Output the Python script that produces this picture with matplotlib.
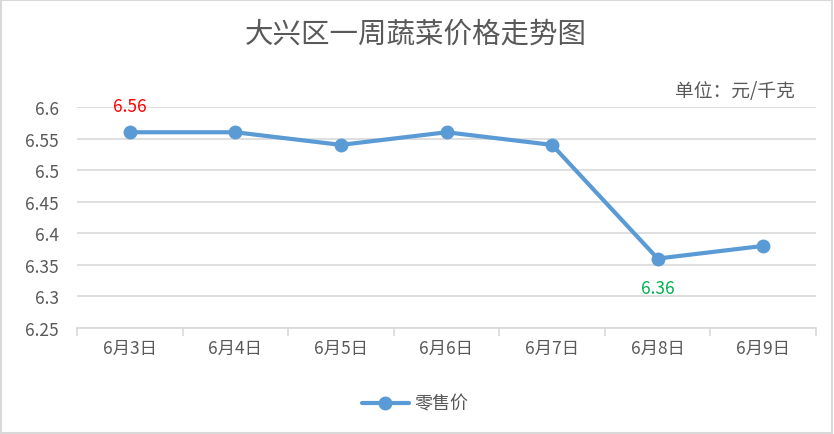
import matplotlib
matplotlib.use("Agg")
import matplotlib.pyplot as plt
from matplotlib.patches import Rectangle

plt.rcParams['font.family'] = ['Noto Sans CJK SC', 'DejaVu Sans']

categories = ["6月3日", "6月4日", "6月5日", "6月6日", "6月7日", "6月8日", "6月9日"]
values = [6.56, 6.56, 6.54, 6.56, 6.54, 6.36, 6.38]
yticks = [6.25, 6.3, 6.35, 6.4, 6.45, 6.5, 6.55, 6.6]
series_name = "零售价"
title = "大兴区一周蔬菜价格走势图"
unit = "单位：元/千克"

fig = plt.figure(figsize=(8.34, 4.35), dpi=100)
ax = fig.add_axes([77/834, 1-329/435, (816-77)/834, (329-108)/435])

x = list(range(len(categories)))
line, = ax.plot(x, values, color='#5B9BD5', linewidth=3, marker='o', markersize=9,
                solid_capstyle='round', label=series_name, zorder=3)

ax.set_xlim(-0.5, len(categories) - 0.5)
ax.set_ylim(6.25, 6.6)
ax.set_yticks(yticks)
ax.set_yticklabels([f"{v:g}" for v in yticks])
ax.yaxis.grid(True, color='#D9D9D9', linewidth=1.2)
ax.set_axisbelow(True)
for s in ['top', 'right', 'left']:
    ax.spines[s].set_visible(False)
ax.spines['bottom'].set_color('#D9D9D9')
ax.spines['bottom'].set_linewidth(1.2)

ax.set_xticks([i + 0.5 for i in range(-1, len(categories))], minor=False)
ax.set_xticklabels([])
ax.set_xticks(x, minor=True)
ax.set_xticklabels(categories, minor=True)
ax.tick_params(axis='x', which='major', length=6, color='#D9D9D9', width=1.2)
ax.tick_params(axis='x', which='minor', length=0, pad=8, labelsize=12.5, labelcolor='#595959')
ax.tick_params(axis='y', length=0, pad=13, labelsize=12.5, labelcolor='#595959')

# annotations
ax.annotate(f"{values[0]:.2f}", (x[0], values[0]), xytext=(0, 19), textcoords='offset points',
            ha='center', va='center', color='#FF0000', fontsize=12.5)
ax.annotate(f"{values[5]:.2f}", (x[5], values[5]), xytext=(0, -21), textcoords='offset points',
            ha='center', va='center', color='#00B050', fontsize=12.5)

fig.text(416/834, 1-35/435, title, ha='center', va='center', fontsize=20.5, color='#595959')
fig.text(795/834, 1-91/435, unit, ha='right', va='center', fontsize=13.5, color='#595959')

leg = fig.legend(handles=[line], loc='center', bbox_to_anchor=(415/834, 1-405/435),
                 frameon=False, fontsize=13, handlelength=2.6, handletextpad=0.3)
for t in leg.get_texts():
    t.set_color('#595959')

fig.patches.append(Rectangle((0.001, 0.002), 0.997, 0.996, transform=fig.transFigure,
                             fill=False, edgecolor='#D9D9D9', linewidth=1.5))

fig.savefig("out.png", dpi=100, facecolor='white')
